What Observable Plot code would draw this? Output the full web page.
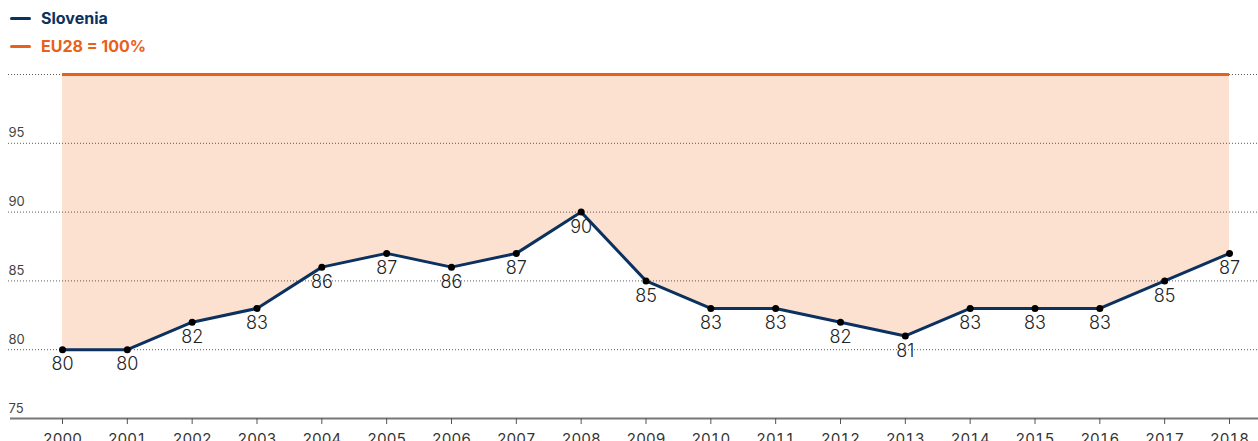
<!DOCTYPE html>
<html><head><meta charset="utf-8">
<script src="https://cdn.jsdelivr.net/npm/d3@7"></script>
<script src="https://cdn.jsdelivr.net/npm/@observablehq/plot@0.6"></script>
<style>
body{margin:0;background:#fff;font-family:Inter,Roboto,sans-serif;}
#legend{position:relative;height:60px;width:1258px;}
.item{position:absolute;left:10px;font-weight:700;font-size:16px;display:flex;align-items:center;}
.sw{width:21px;height:3px;border-radius:2px;margin-right:10px;}
</style></head><body>
<div id="legend">
  <div class="item" style="top:8px;color:#0b3160"><span class="sw" style="background:#0b3160"></span>Slovenia</div>
  <div class="item" style="top:36px;color:#e8601c"><span class="sw" style="background:#e8601c"></span>EU28 = 100%</div>
</div>
<div id="chart"></div>
<script>
const years = [2000,2001,2002,2003,2004,2005,2006,2007,2008,2009,2010,2011,2012,2013,2014,2015,2016,2017,2018];
const slovenia = [80,80,82,83,86,87,86,87,90,85,83,83,82,81,83,83,83,85,87];
const eu = 100;
const yTicks = [75,80,85,90,95];
const gridTicks = [80,85,90,95,100];

const data = years.map((y,i)=>({year:y, value:slovenia[i]}));

const chart = Plot.plot({
  width:1258, height:381,
  marginLeft:0, marginRight:0, marginTop:14, marginBottom:23,
  x:{type:"linear", domain:[2000,2018], range:[62,1229]},
  y:{domain:[75,100], axis:null},
  style:{fontFamily:"Inter,Roboto,sans-serif", background:"#fff"},
  marks:[
    Plot.areaY(data,{x:"year", y1:"value", y2:()=>eu, fill:"#fce1d1"}),
    Plot.ruleY(gridTicks,{stroke:"#333", strokeWidth:0.8, strokeDasharray:"1,2", insetLeft:8}),
    Plot.text(yTicks,{y:d=>d, frameAnchor:"left", dx:8, dy:-10, text:d=>String(d), textAnchor:"start", fontSize:13, fill:"#444"}),
    Plot.ruleY([75],{stroke:"#777", strokeWidth:2, insetLeft:10}),
    Plot.axisX({ticks:years, tickFormat:d=>String(d), tickSize:6, tickPadding:9, fontSize:15, stroke:"#555", fill:"#333", label:null}),
    Plot.ruleY([eu],{x1:2000, x2:2018, stroke:"#e8601c", strokeWidth:3}),
    Plot.line(data,{x:"year", y:"value", stroke:"#0b3160", strokeWidth:3}),
    Plot.dot(data,{x:"year", y:"value", r:3.5, fill:"#000"}),
    Plot.text(data,{x:"year", y:"value", text:d=>String(d.value), dy:15, fontSize:18, fill:"#222", fontWeight:300})
  ]
});
document.getElementById("chart").appendChild(chart);
</script>
</body></html>
